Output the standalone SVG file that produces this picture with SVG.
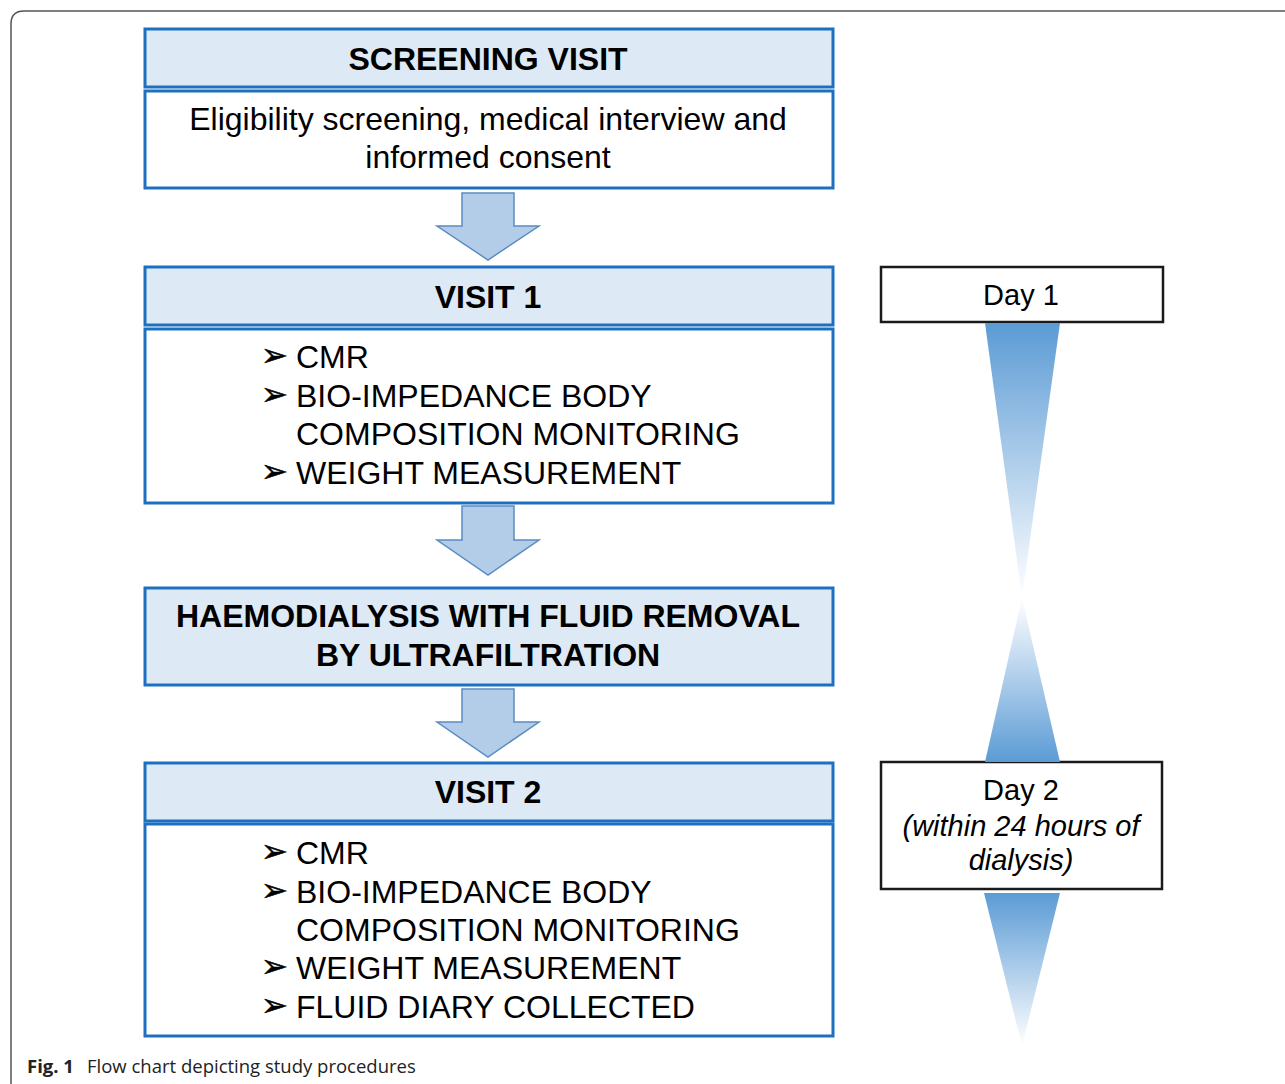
<svg xmlns="http://www.w3.org/2000/svg" width="1285" height="1084" viewBox="0 0 1285 1084">
<style>
.hdr{fill:#dde9f5;stroke:#1d70c0;stroke-width:3}
.body{fill:#ffffff;stroke:#1d70c0;stroke-width:3}
.day{fill:#ffffff;stroke:#1a1a1a;stroke-width:2.5}
.arr{fill:#b3cde9;stroke:#5a8cc4;stroke-width:1.5;stroke-linejoin:miter}
.t{font-family:"Liberation Sans",Arial,sans-serif;font-size:32px;fill:#000}
.d{font-family:"Liberation Sans",Arial,sans-serif;font-size:29px;fill:#000;text-anchor:middle}
.b{font-weight:bold;text-anchor:middle}
.c{text-anchor:middle}
.bl{font-family:"DejaVu Sans",sans-serif;font-size:32px;fill:#000;stroke:#000;stroke-width:0.6}
.cap{font-family:"Open Sans","Noto Sans",sans-serif;font-size:18.5px;fill:#222}
</style>
<defs>
<linearGradient id="gDown" x1="0" y1="0" x2="0" y2="1">
<stop offset="0" stop-color="#5b9bd5"/>
<stop offset="1" stop-color="#ffffff"/>
</linearGradient>
<linearGradient id="gUp" x1="0" y1="1" x2="0" y2="0">
<stop offset="0" stop-color="#5b9bd5"/>
<stop offset="1" stop-color="#ffffff"/>
</linearGradient>
</defs>
<rect width="1285" height="1084" fill="#ffffff"/>
<path d="M11 1084 V24 Q11 11 24 11 H1285" fill="none" stroke="#555" stroke-width="1.5"/>

<g id="screening">
<rect class="hdr" x="145" y="29" width="688" height="58"/>
<text class="t b" x="488" y="70">SCREENING VISIT</text>
<rect class="body" x="145" y="91" width="688" height="97"/>
<text class="t c" x="488" y="130">Eligibility screening, medical interview and</text>
<text class="t c" x="488" y="168">informed consent</text>
</g>

<g id="visit1">
<rect class="hdr" x="145" y="267" width="688" height="58"/>
<text class="t b" x="488" y="308">VISIT 1</text>
<rect class="body" x="145" y="329" width="688" height="174"/>
<text class="bl" x="261" y="366">➢</text>
<text class="t" x="296" y="368">CMR</text>
<text class="bl" x="261" y="405">➢</text>
<text class="t" x="296" y="407">BIO-IMPEDANCE BODY</text>
<text class="t" x="296" y="445">COMPOSITION MONITORING</text>
<text class="bl" x="261" y="482">➢</text>
<text class="t" x="296" y="484">WEIGHT MEASUREMENT</text>
</g>

<g id="haemodialysis">
<rect class="hdr" x="145" y="588" width="688" height="97"/>
<text class="t b" x="488" y="627">HAEMODIALYSIS WITH FLUID REMOVAL</text>
<text class="t b" x="488" y="666">BY ULTRAFILTRATION</text>
</g>

<g id="visit2">
<rect class="hdr" x="145" y="763" width="688" height="58"/>
<text class="t b" x="488" y="803">VISIT 2</text>
<rect class="body" x="145" y="824" width="688" height="212"/>
<text class="bl" x="261" y="862">➢</text>
<text class="t" x="296" y="864">CMR</text>
<text class="bl" x="261" y="901">➢</text>
<text class="t" x="296" y="903">BIO-IMPEDANCE BODY</text>
<text class="t" x="296" y="941">COMPOSITION MONITORING</text>
<text class="bl" x="261" y="977">➢</text>
<text class="t" x="296" y="979">WEIGHT MEASUREMENT</text>
<text class="bl" x="261" y="1016">➢</text>
<text class="t" x="296" y="1018">FLUID DIARY COLLECTED</text>
</g>

<g id="day1">
<rect class="day" x="881" y="267" width="282" height="55"/>
<text class="d" x="1021" y="305">Day 1</text>
</g>

<g id="day2">
<rect class="day" x="881" y="762" width="281" height="127"/>
<text class="d" x="1021" y="800">Day 2</text>
<text class="d" x="1021" y="836" font-style="italic">(within 24 hours of</text>
<text class="d" x="1021" y="870" font-style="italic">dialysis)</text>
</g>

<g id="connectors">
<path class="arr" d="M462 193 H514 V226 H539 L488 260 L437 226 H462 Z"/>
<path class="arr" d="M462 506 H514 V540 H539 L488 575 L437 540 H462 Z"/>
<path class="arr" d="M462 689 H514 V722 H539 L488 757 L437 722 H462 Z"/>
<polygon points="985,323 1060,323 1022,597" fill="url(#gDown)"/>
<polygon points="1022,598 1060,762 985,762" fill="url(#gUp)"/>
<polygon points="984,893 1060,893 1022,1046" fill="url(#gDown)"/>
</g>

<text class="cap" x="27" y="1073"><tspan font-weight="bold">Fig. 1</tspan><tspan x="87">Flow chart depicting study procedures</tspan></text>
</svg>
